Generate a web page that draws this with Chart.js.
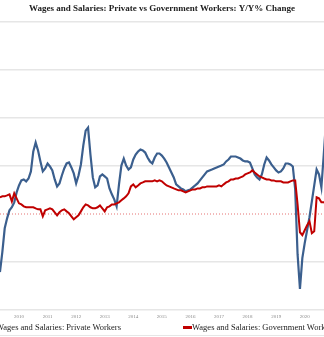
<!DOCTYPE html>
<html>
<head>
<meta charset="utf-8">
<script src="https://cdn.jsdelivr.net/npm/chart.js@4/dist/chart.umd.min.js"></script>
<style>
  html, body { margin: 0; padding: 0; background: #fff; overflow: hidden; }
  #wrap { position: relative; width: 324px; height: 337px; overflow: hidden; }
  canvas { position: absolute; left: 0; top: 0; }
  .leg { position: absolute; top: 322px; font-family: 'Liberation Serif', 'DejaVu Serif', serif; font-size: 8.5px; line-height: 10px; color: #222; white-space: nowrap; }
  .swatch { position: absolute; top: 326px; width: 9px; height: 3px; }
  #bottomline { position: absolute; left: 0; top: 335px; width: 324px; height: 1px; background: #e6e6e6; }
</style>
</head>
<body>
<div id="wrap">
  <canvas id="c" width="324" height="337"></canvas>
  <div class="swatch" style="left:-14px;background:#3b5f8e"></div>
  <div class="leg" style="left:-4px">Wages and Salaries: Private Workers</div>
  <div class="swatch" style="left:183px;background:#c00000"></div>
  <div class="leg" style="left:192px">Wages and Salaries: Government Workers</div>
  <div id="bottomline"></div>
</div>
<script>
// Monthly observations from 2009-09 to 2021-04
const startMonth = '2009-09';
const endMonth = '2021-04';
const yearLabels = ['2010','2011','2012','2013','2014','2015','2016','2017','2018','2019','2020'];

// Y/Y % change, private workers
const privateWorkers = [
  -7.50,-6.42,-4.84,-3.18,
  -1.19,-0.36,0.31,0.56,0.97,1.80,2.38,2.80,2.88,2.72,2.96,3.55,
  5.21,5.95,5.29,4.38,3.55,3.80,4.21,3.96,3.63,2.88,2.30,2.55,
  3.21,3.80,4.21,4.29,3.88,3.38,2.55,3.21,4.13,5.70,6.95,7.20,
  4.96,3.05,2.22,2.38,3.13,3.30,3.13,2.96,2.13,1.64,1.22,0.64,
  2.47,4.04,4.62,4.04,3.71,3.88,4.54,4.96,5.21,5.37,5.29,5.12,
  4.71,4.38,4.21,4.71,5.04,5.04,4.87,4.62,4.29,3.88,3.46,3.05,
  2.47,2.30,2.13,2.05,1.89,1.97,2.05,2.22,2.38,2.55,2.80,3.05,
  3.30,3.55,3.63,3.71,3.80,3.88,3.96,4.04,4.13,4.38,4.54,4.79,
  4.79,4.79,4.71,4.62,4.46,4.38,4.38,4.29,3.80,3.30,3.05,2.88,
  3.30,4.13,4.71,4.46,4.13,3.88,3.63,3.46,3.55,3.80,4.21,4.21,
  4.13,3.96,2.05,-3.35,-6.25,-3.68,-2.43,-1.35,-0.27,1.05,2.38,3.71,
  3.30,2.22,4.96,7.86
];

// Y/Y % change, government workers
const governmentWorkers = [
  1.30,1.39,1.39,1.47,
  1.47,1.55,1.64,1.05,1.72,1.30,0.89,0.80,0.64,0.56,0.56,0.56,
  0.56,0.47,0.39,0.39,-0.19,0.31,0.39,0.47,0.39,0.14,-0.11,0.14,
  0.31,0.39,0.22,0.06,-0.19,-0.44,-0.27,-0.11,0.22,0.56,0.80,0.72,
  0.56,0.47,0.47,0.56,0.72,0.47,0.22,0.56,0.64,0.80,0.80,0.89,
  0.97,1.14,1.30,1.47,1.72,2.30,2.47,2.22,2.38,2.55,2.63,2.72,
  2.72,2.72,2.72,2.80,2.72,2.80,2.72,2.55,2.38,2.30,2.22,2.13,
  2.05,1.97,1.97,1.89,1.80,1.89,1.97,2.05,2.05,2.13,2.13,2.22,
  2.22,2.30,2.30,2.30,2.30,2.30,2.38,2.30,2.47,2.63,2.72,2.88,
  2.88,2.96,2.96,3.05,3.13,3.30,3.38,3.46,3.63,3.46,3.30,3.13,
  3.05,2.96,2.88,2.88,2.80,2.80,2.72,2.72,2.72,2.63,2.63,2.63,
  2.72,2.80,2.80,0.80,-1.52,-1.77,-1.35,-0.94,-0.61,-1.60,-1.44,1.39,
  1.30,0.97,0.97,0.89
];

const seriesNames = ['Wages and Salaries: Private Workers', 'Wages and Salaries: Government Workers'];

// build month list (x categories) as decimal years
function monthList(a, b) {
  const out = [];
  let [y, m] = a.split('-').map(Number);
  const [ey, em] = b.split('-').map(Number);
  while (y < ey || (y === ey && m <= em)) {
    out.push(y + (m - 1) / 12);
    m++; if (m > 12) { m = 1; y++; }
  }
  return out;
}
const months = monthList(startMonth, endMonth);
const toPoints = arr => arr.map((v, i) => ({ x: months[i], y: v }));

const X_MIN = 2009.835, X_MAX = 2021.175;

new Chart(document.getElementById('c'), {
  type: 'line',
  data: {
    datasets: [
      { label: seriesNames[1], data: toPoints(governmentWorkers), borderColor: '#c00000', borderWidth: 2, pointRadius: 0, tension: 0, order: 0 },
      { label: seriesNames[0], data: toPoints(privateWorkers), borderColor: '#3b5f8e', borderWidth: 2.2, pointRadius: 0, tension: 0, order: 1 },
      { label: 'zero', data: [{ x: X_MIN, y: 0 }, { x: X_MAX, y: 0 }], borderColor: '#e57373', borderWidth: 1, borderDash: [1, 2], pointRadius: 0, order: 2 }
    ]
  },
  options: {
    responsive: false,
    animation: false,
    devicePixelRatio: 1,
    layout: { padding: { left: 0, right: 0, top: 0, bottom: 13 } },
    plugins: {
      legend: { display: false },
      tooltip: { enabled: false },
      title: {
        display: true,
        text: 'Wages and Salaries: Private vs Government Workers: Y/Y% Change',
        font: { family: "'Liberation Serif', serif", weight: 'bold', size: 9 },
        color: '#222',
        padding: { top: 3, bottom: 8.2 }
      }
    },
    scales: {
      x: {
        type: 'linear',
        min: X_MIN,
        max: X_MAX,
        grid: { display: false, drawTicks: false },
        border: { display: false },
        afterBuildTicks: (scale) => { scale.ticks = yearLabels.map(y => ({ value: Number(y) + 0.5 })); },
        ticks: {
          autoSkip: false,
          maxRotation: 0,
          padding: 4,
          color: '#888',
          font: { family: "'Liberation Serif', serif", size: 5 },
          callback: (v, i) => yearLabels[i]
        }
      },
      y: {
        min: -8,
        max: 16,
        ticks: { display: false, stepSize: 4 },
        grid: {
          drawTicks: false,
          color: (ctx) => (ctx.tick && ctx.tick.value === 0) ? 'rgba(0,0,0,0)' : '#e6e6e6',
          lineWidth: 1.5
        },
        border: { display: false }
      }
    }
  }
});
</script>
</body>
</html>
